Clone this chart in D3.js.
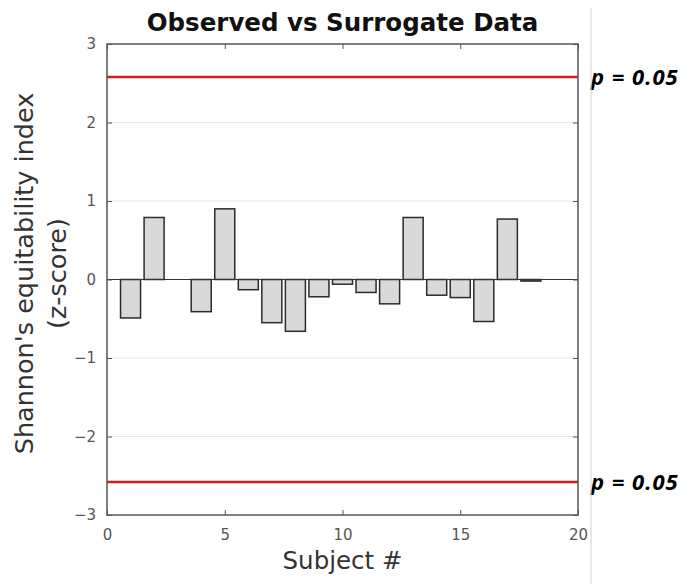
<!DOCTYPE html>
<html>
<head>
<meta charset="utf-8">
<script src="https://cdn.jsdelivr.net/npm/d3@7"></script>
<style>
  body { margin: 0; background: #fff; }
  svg text { font-family: "DejaVu Sans", sans-serif; }
</style>
</head>
<body>
<div id="chart"></div>
<script>
// data (subject 3 has no bar)
const subjects = [1, 2, 4, 5, 6, 7, 8, 9, 10, 11, 12, 13, 14, 15, 16, 17, 18];
const zscores = [-0.49, 0.79, -0.41, 0.90, -0.13, -0.55, -0.66, -0.22, -0.06, -0.165, -0.31, 0.79, -0.20, -0.23, -0.535, 0.77, -0.02];
const thresholds = [2.58, -2.58];
const xTicks = [0, 5, 10, 15, 20];
const yTicks = [-3, -2, -1, 0, 1, 2, 3];

const W = 685, H = 584;
const margin = { top: 44, right: 107, bottom: 69, left: 107 };
const width = W - margin.left - margin.right,
  height = H - margin.top - margin.bottom;

const svg = d3.select("#chart").append("svg")
  .attr("width", W).attr("height", H);

const g = svg.append("g")
  .attr("transform", "translate(" + margin.left + "," + margin.top + ")");

const xScale = d3.scaleLinear().domain([0, 20]).range([0, width]);
const yScale = d3.scaleLinear().domain([-3, 3]).range([height, 0]);

// grid
g.append("g").selectAll("line").data(yTicks.filter(d => d > -3 && d < 3))
  .enter().append("line")
  .attr("x1", 0).attr("x2", width)
  .attr("y1", d => yScale(d)).attr("y2", d => yScale(d))
  .attr("stroke", "#e6e6e6").attr("stroke-width", 1);

// bars
const bw = 0.85;
g.selectAll(".bar").data(subjects)
  .enter().append("rect")
  .attr("class", "bar")
  .attr("x", (d) => xScale(d - bw / 2))
  .attr("width", xScale(bw) - xScale(0))
  .attr("y", (d, i) => yScale(Math.max(0, zscores[i])))
  .attr("height", (d, i) => Math.max(1, Math.abs(yScale(zscores[i]) - yScale(0))))
  .attr("fill", "#d9d9d9")
  .attr("stroke", "#2b2b2b")
  .attr("stroke-width", 1.5);

// zero line
g.append("line")
  .attr("x1", 0).attr("x2", width)
  .attr("y1", yScale(0)).attr("y2", yScale(0))
  .attr("stroke", "#333").attr("stroke-width", 1.2);

// threshold lines
g.selectAll(".thr").data(thresholds)
  .enter().append("line")
  .attr("class", "thr")
  .attr("x1", 0).attr("x2", width)
  .attr("y1", d => yScale(d)).attr("y2", d => yScale(d))
  .attr("stroke", "#d7191c").attr("stroke-width", 2.6);

// axes, ticks inward
const axisColor = "#555";
function styleAxis(sel) {
  sel.select(".domain").remove();
  sel.selectAll(".tick line").attr("stroke", axisColor);
  sel.selectAll(".tick text").attr("fill", "#555").style("font-size", "15px");
}
g.append("g").attr("transform", "translate(0," + height + ")")
  .call(d3.axisBottom(xScale).tickValues(xTicks).tickSizeInner(-5).tickPadding(14).tickFormat(d3.format("d")))
  .call(styleAxis);
g.append("g")
  .call(d3.axisLeft(yScale).tickValues(yTicks).tickSizeInner(-5).tickPadding(11).tickFormat(d => d < 0 ? "\u2212" + Math.abs(d) : d))
  .call(styleAxis);
g.append("g")
  .call(d3.axisTop(xScale).tickValues(xTicks).tickSizeInner(-5).tickFormat(""))
  .call(styleAxis);
g.append("g").attr("transform", "translate(" + width + ",0)")
  .call(d3.axisRight(yScale).tickValues(yTicks).tickSizeInner(-5).tickFormat(""))
  .call(styleAxis);

g.append("rect")
  .attr("width", width).attr("height", height)
  .attr("fill", "none").attr("stroke", axisColor).attr("stroke-width", 1.5);

// labels for thresholds
g.selectAll(".plabel").data(thresholds)
  .enter().append("text")
  .attr("x", width + 13)
  .attr("y", d => yScale(d) + 8)
  .attr("font-size", 22)
  .attr("font-weight", "bold")
  .attr("font-style", "italic")
  .attr("letter-spacing", 1)
  .style("font-family", "'Open Sans', sans-serif")
  .attr("fill", "#000")
  .text("p = 0.05");

// separator line on the right
svg.append("line")
  .attr("x1", 591).attr("x2", 591)
  .attr("y1", 8).attr("y2", H)
  .attr("stroke", "#cfcfcf").attr("stroke-width", 1);

// title
svg.append("text")
  .attr("x", margin.left + width / 2)
  .attr("y", 31)
  .attr("text-anchor", "middle")
  .attr("font-size", 24.5)
  .attr("font-weight", "bold")
  .attr("fill", "#111")
  .text("Observed vs Surrogate Data");

// x label
svg.append("text")
  .attr("x", margin.left + width / 2)
  .attr("y", 569)
  .attr("text-anchor", "middle")
  .attr("font-size", 24.5)
  .attr("fill", "#333")
  .text("Subject #");

// y label (two lines)
const yl = svg.append("text")
  .attr("transform", "translate(33," + (margin.top + height / 2 - 6) + ") rotate(-90)")
  .attr("text-anchor", "middle")
  .attr("font-size", 25.5)
  .attr("fill", "#333");
yl.append("tspan").attr("x", 0).attr("y", 0).text("Shannon's equitability index");
yl.append("tspan").attr("x", 0).attr("y", 33).text("(z-score)");
</script>
</body>
</html>
